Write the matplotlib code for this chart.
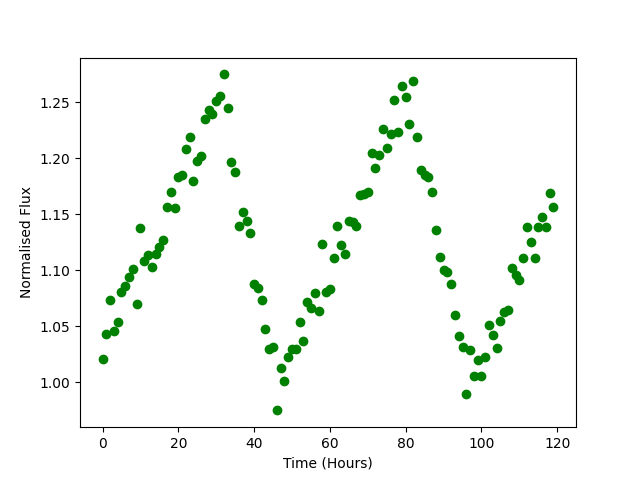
import matplotlib
matplotlib.use('Agg')
import matplotlib.pyplot as plt
import numpy as np

hours = np.arange(120)
flux = [1.021, 1.043, 1.074, 1.046, 1.054, 1.081, 1.086, 1.094, 1.101, 1.070,
        1.138, 1.108, 1.114, 1.103, 1.115, 1.121, 1.127, 1.157, 1.170, 1.156,
        1.183, 1.185, 1.208, 1.219, 1.180, 1.198, 1.202, 1.235, 1.243, 1.240,
        1.251, 1.256, 1.275, 1.245, 1.197, 1.188, 1.140, 1.152, 1.144, 1.133,
        1.088, 1.084, 1.074, 1.048, 1.030, 1.032, 0.975, 1.013, 1.001, 1.023,
        1.030, 1.030, 1.054, 1.037, 1.072, 1.066, 1.080, 1.064, 1.124, 1.081,
        1.083, 1.111, 1.140, 1.123, 1.115, 1.144, 1.143, 1.140, 1.167, 1.168,
        1.170, 1.205, 1.191, 1.203, 1.226, 1.209, 1.222, 1.252, 1.224, 1.265,
        1.255, 1.231, 1.269, 1.219, 1.190, 1.185, 1.183, 1.170, 1.136, 1.112,
        1.100, 1.099, 1.088, 1.060, 1.041, 1.032, 0.990, 1.029, 1.006, 1.020,
        1.006, 1.023, 1.051, 1.042, 1.031, 1.055, 1.063, 1.065, 1.102, 1.096,
        1.091, 1.111, 1.139, 1.125, 1.111, 1.139, 1.148, 1.139, 1.169, 1.157]

fig, ax = plt.subplots(figsize=(6.4, 4.8), dpi=100)
ax.plot(hours, flux, 'o', color='green')
ax.set_xlabel('Time (Hours)')
ax.set_ylabel('Normalised Flux')

plt.savefig('out.png')
